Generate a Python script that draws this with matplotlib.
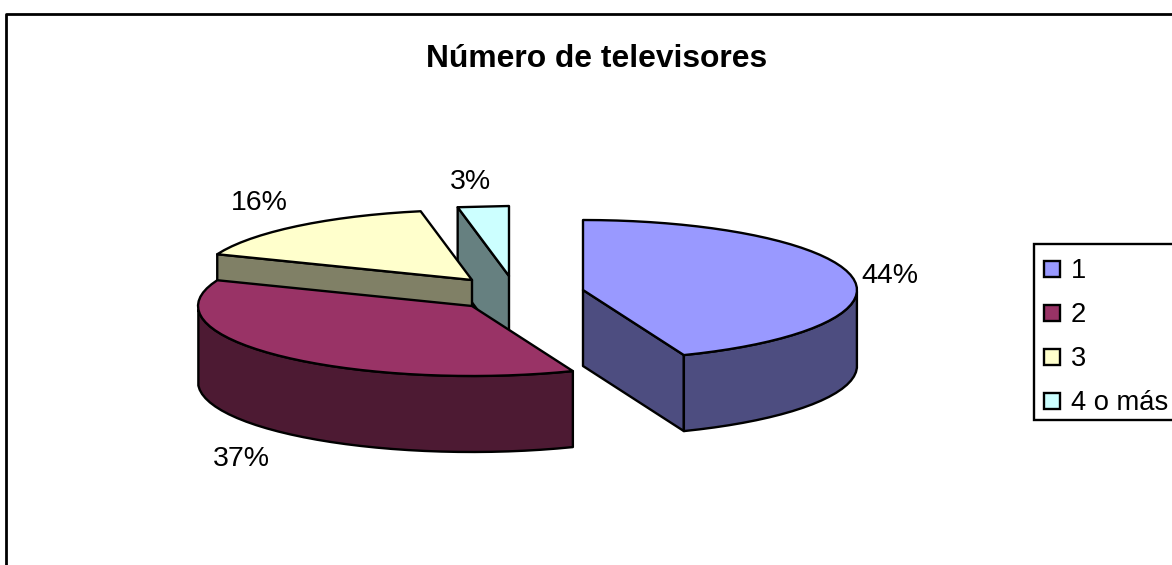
import numpy as np
import matplotlib
matplotlib.use("Agg")
import matplotlib.pyplot as plt
from matplotlib.patches import Polygon, Rectangle

plt.rcParams["font.family"] = ["Liberation Sans", "DejaVu Sans"]

# datos
categorias = ["1", "2", "3", "4 o más"]
porcentajes = [44, 37, 16, 3]
etiquetas = ["44%", "37%", "16%", "3%"]

colores = ["#9999FF", "#993366", "#FFFFCC", "#CCFFFF"]
laterales = ["#4D4D80", "#4D1A33", "#808066", "#668080"]

# apex of each exploded slice, label position (pixels)
centros = [(583, 290), (472, 306), (472, 280), (509, 276)]
pos_etiquetas = [(890, 276), (241, 459), (259, 203), (470, 182)]

RX, RY, ALTO = 274, 70, 76
PASO = np.radians(3.5)

fig = plt.figure(figsize=(11.72, 5.65), dpi=100)
ax = fig.add_axes([0, 0, 1, 1])
ax.set_xlim(0, 1172)
ax.set_ylim(565, 0)
ax.axis("off")


def punto(c, t):
    return c[0] + RX * np.sin(t), c[1] - RY * np.cos(t)


def cara(pts, color):
    ax.add_patch(Polygon(pts, closed=True, fc=color, ec="black", lw=1.7, joinstyle="round"))


# marco (solo arriba e izquierda, el resto queda recortado)
ax.plot([5.5, 5.5, 1172], [565, 13.5, 13.5], color="black", lw=2, solid_capstyle="butt")

limites = np.radians(np.cumsum([0] + porcentajes) * 3.6)

# back slices first
for i in [3, 2, 1, 0]:
    c = centros[i]
    t0, t1 = limites[i], limites[i + 1]
    # the thin slice is a plain chord in the original
    n = 2 if t1 - t0 < np.radians(15) else int(round((t1 - t0) / PASO)) + 1
    ts = np.linspace(t0, t1, n)
    arco = np.array([punto(c, t) for t in ts])

    # cut faces
    if t1 < np.pi:
        p = punto(c, t1)
        cara([c, p, (p[0], p[1] + ALTO), (c[0], c[1] + ALTO)], laterales[i])
    elif t0 > np.pi:
        p = punto(c, t0)
        cara([c, p, (p[0], p[1] + ALTO), (c[0], c[1] + ALTO)], laterales[i])

    # outer rim, front half only
    ts_f = ts[(ts >= np.pi / 2) & (ts <= 3 * np.pi / 2)]
    if len(ts_f) > 1:
        arr = np.array([punto(c, t) for t in ts_f])
        abajo = arr[::-1] + [0, ALTO]
        cara(np.vstack([arr, abajo]), laterales[i])

    cara(np.vstack([[c], arco]), colores[i])

for (x, y), txt in zip(pos_etiquetas, etiquetas):
    ax.text(x, y, txt, fontsize=20.5, ha="center", va="center")

ax.text(597, 59, "Número de televisores", fontsize=22.9, fontweight="bold", ha="center", va="center")

# leyenda
ax.add_patch(Rectangle((1034, 244), 160, 176, fc="white", ec="black", lw=1.7))
for y, nombre, col in zip([269, 313, 357, 401], categorias, colores):
    ax.add_patch(Rectangle((1044, y - 8), 16, 16, fc=col, ec="black", lw=1.7))
    ax.text(1071, y + 2, nombre, fontsize=19.7, ha="left", va="center")

fig.savefig("out.png", dpi=100)
